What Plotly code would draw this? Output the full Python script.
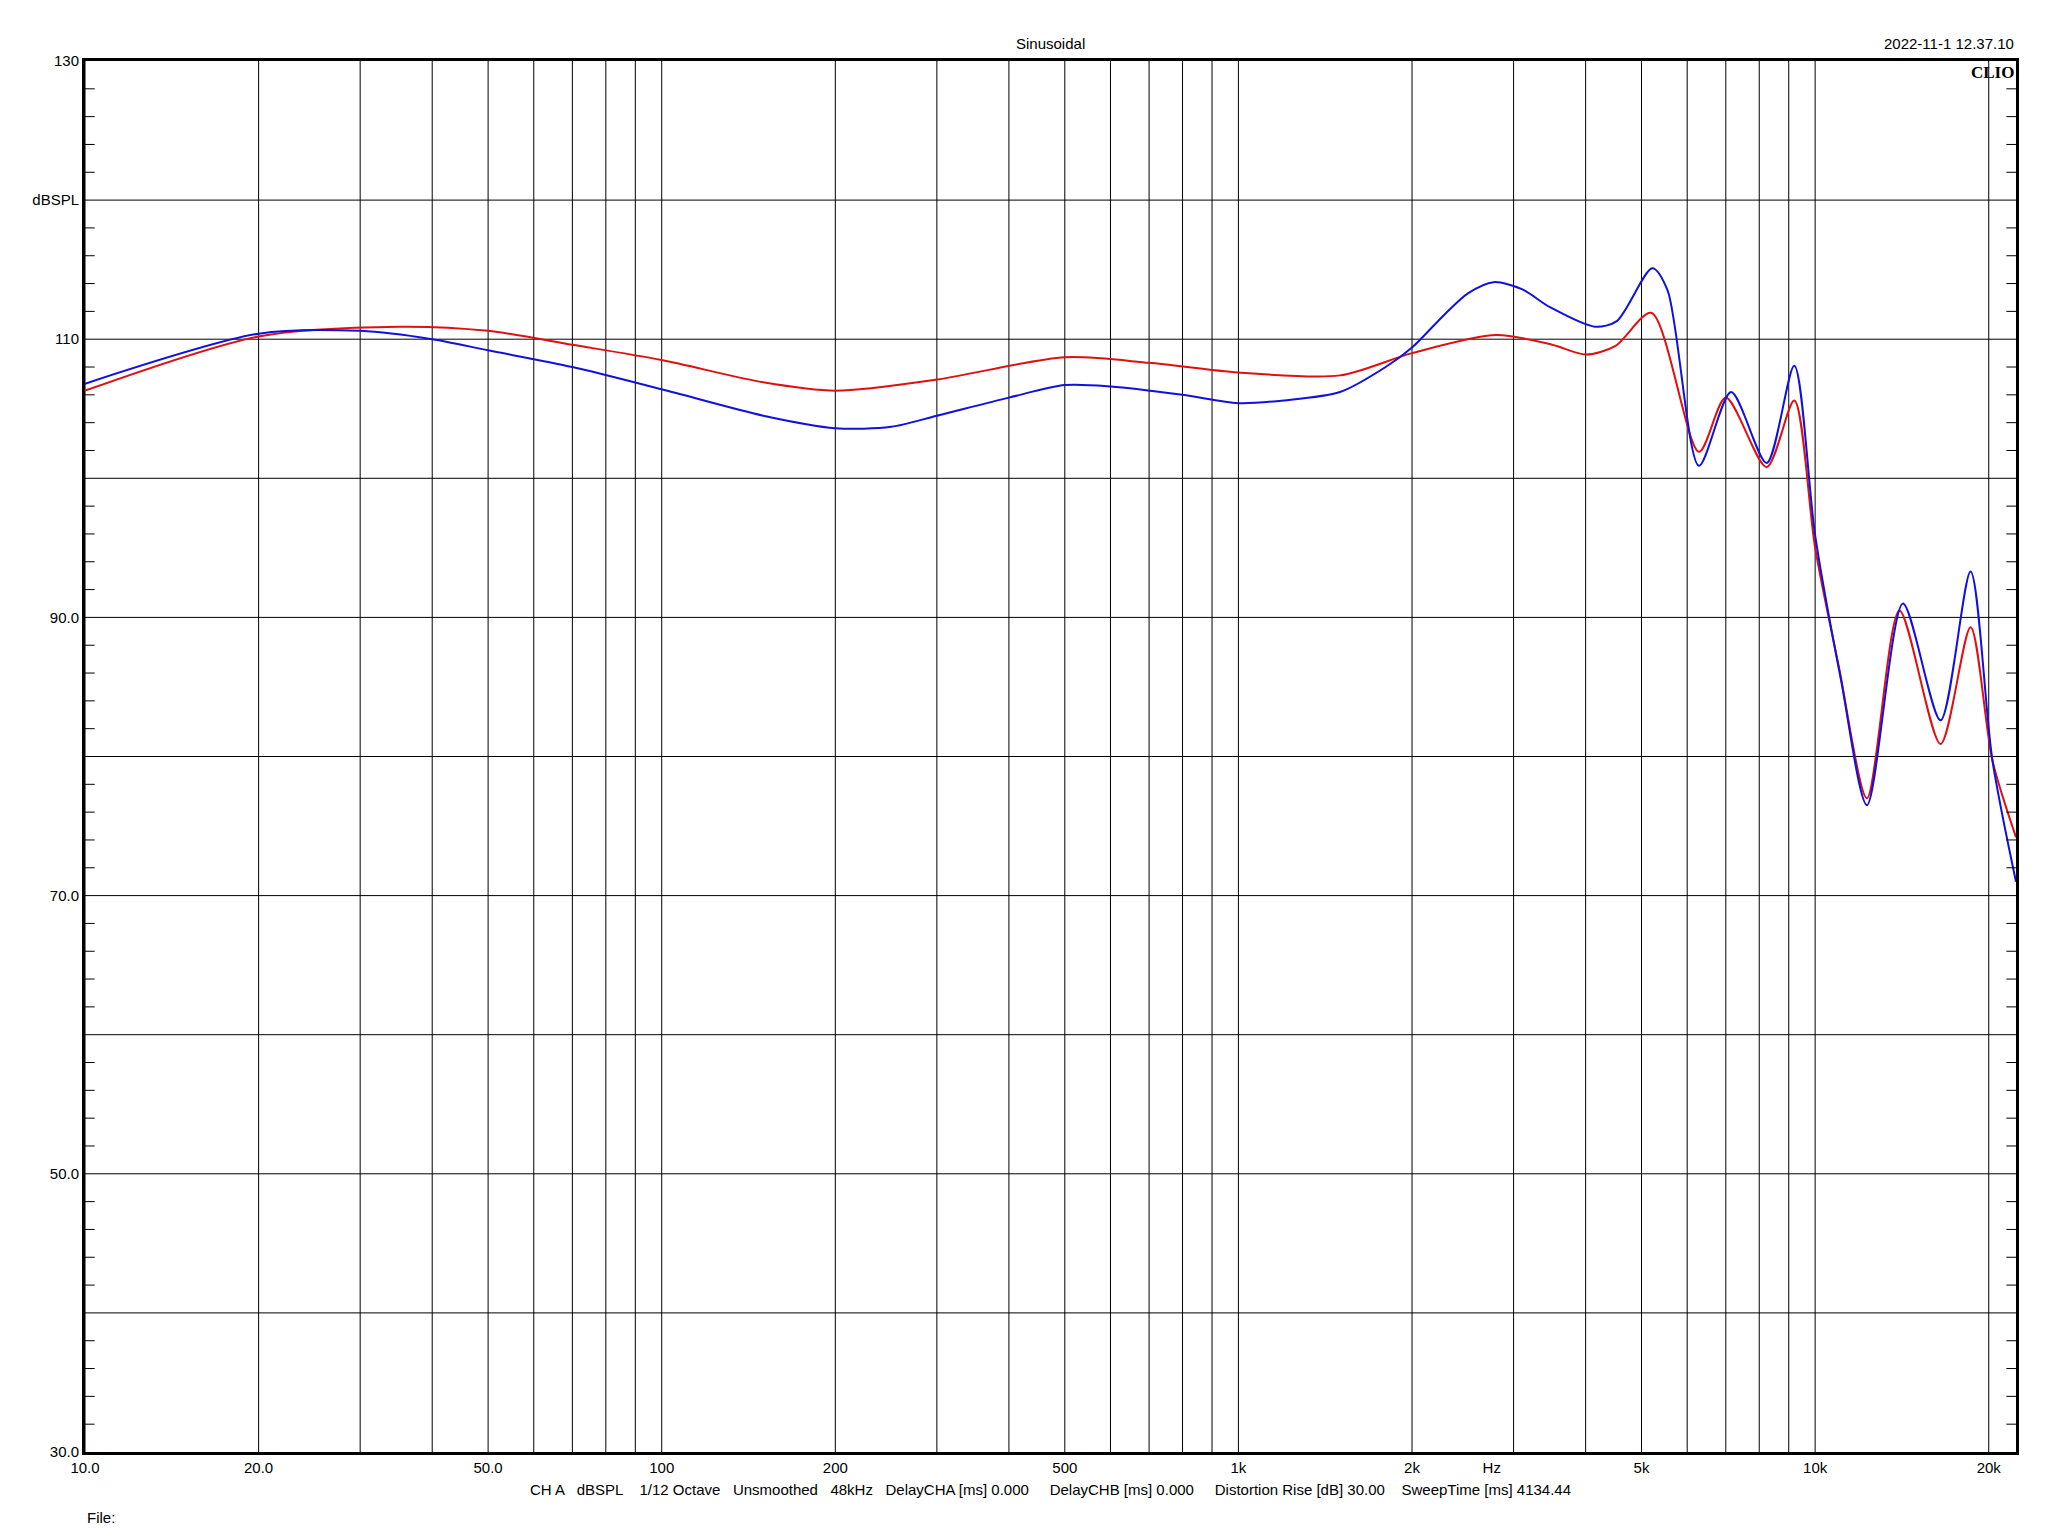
import numpy as np
import plotly.graph_objects as go

blue_f = [10, 20, 30, 40, 50, 70, 100, 150, 200, 250, 300, 400, 500, 600, 800, 1000, 1200, 1500, 1800, 2000,
          2280, 2500, 2770, 3100, 3470, 4150, 4530, 5220, 5550, 6290, 7150, 8240, 9200, 10000, 11100, 12300,
          14200, 16500, 18600, 20300, 22300]
blue_db = [106.8, 110.4, 110.6, 110.0, 109.2, 108.0, 106.4, 104.5, 103.6, 103.7, 104.5, 105.8, 106.7,
           106.6, 106.0, 105.4, 105.6, 106.2, 108.0, 109.4, 111.8, 113.3, 114.1, 113.6, 112.3, 110.9, 111.3,
           115.1, 113.5, 100.9, 106.2, 101.1, 108.1, 95.9, 85.4, 76.5, 91.0, 82.6, 93.3, 79.7, 71.0]

red_f = [10, 20, 35, 50, 70, 100, 150, 200, 300, 500, 700, 1000, 1500, 2000, 2800, 3500, 4000, 4500,
         5200, 6290, 7000, 8240, 9200, 10000, 11000, 12300, 14000, 16500, 18600, 20300, 22300]
red_db = [106.3, 110.2, 110.9, 110.6, 109.6, 108.5, 106.9, 106.3, 107.1, 108.7, 108.3, 107.6, 107.4,
          109.0, 110.3, 109.6, 108.9, 109.5, 111.9, 101.9, 105.8, 100.8, 105.6, 95.0, 86.4, 77.0,
          90.5, 80.9, 89.3, 79.7, 74.2]

x_grid = [10, 20, 30, 40, 50, 60, 70, 80, 90, 100, 200, 300, 400, 500, 600, 700, 800, 900,
          1000, 2000, 3000, 4000, 5000, 6000, 7000, 8000, 9000, 10000, 20000]
x_tick_vals = [10, 20, 50, 100, 200, 500, 1000, 2000, 2750, 5000, 10000, 20000]
x_tick_text = ["10.0", "20.0", "50.0", "100", "200", "500", "1k", "2k", "Hz", "5k", "10k", "20k"]
y_tick_vals = [130, 120, 110, 90, 70, 50, 30]
y_tick_text = ["130", "dBSPL", "110", "90.0", "70.0", "50.0", "30.0"]

fmax = 22300
font = dict(family="Liberation Sans, Arial", size=15, color="black")

fig = go.Figure()
fig.add_trace(go.Scatter(x=red_f, y=red_db, mode="lines", line=dict(color="#e01010", width=2, shape="spline", smoothing=0.8)))
fig.add_trace(go.Scatter(x=blue_f, y=blue_db, mode="lines", line=dict(color="#1010e0", width=2, shape="spline", smoothing=0.8)))

shapes = []
for f in x_grid:
    shapes.append(dict(type="line", xref="x", yref="paper", x0=f, x1=f, y0=0, y1=1, line=dict(color="black", width=1), layer="below"))
for v in range(40, 130, 10):
    shapes.append(dict(type="line", xref="paper", yref="y", x0=0, x1=1, y0=v, y1=v, line=dict(color="black", width=1), layer="below"))
# inner minor ticks every 2 dB on both sides
for v in range(32, 130, 2):
    if v % 10 == 0:
        continue
    shapes.append(dict(type="line", xref="paper", yref="y", x0=0, x1=0.005, y0=v, y1=v, line=dict(color="black", width=1)))
    shapes.append(dict(type="line", xref="paper", yref="y", x0=0.995, x1=1, y0=v, y1=v, line=dict(color="black", width=1)))

fig.update_layout(
    width=2048, height=1536,
    margin=dict(l=77, r=40, t=53, b=92),
    plot_bgcolor="white", paper_bgcolor="white",
    showlegend=False, font=font, shapes=shapes,
    xaxis=dict(type="log", range=[1, np.log10(fmax)], tickvals=x_tick_vals, ticktext=x_tick_text,
               showgrid=False, zeroline=False, showline=True, linecolor="black", linewidth=3, mirror=True,
               ticks="", ticklen=0),
    yaxis=dict(range=[30, 130], tickvals=y_tick_vals, ticktext=y_tick_text, showgrid=False, zeroline=False,
               showline=True, linecolor="black", linewidth=3, mirror=True, ticks=""),
    annotations=[
        dict(text="Sinusoidal", xref="paper", yref="paper", x=0.5, y=1, yshift=28, showarrow=False, font=font),
        dict(text="2022-11-1 12.37.10", xref="paper", yref="paper", x=1, y=1, yshift=28, xanchor="right", showarrow=False, font=font),
        dict(text="<b>CLIO</b>", xref="paper", yref="paper", x=1, y=1, yanchor="top", xanchor="right", showarrow=False,
             font=dict(family="Liberation Serif", size=17, color="black")),
        dict(text="CH A   dBSPL    1/12 Octave   Unsmoothed   48kHz   DelayCHA [ms] 0.000     DelayCHB [ms] 0.000     Distortion Rise [dB] 30.00    SweepTime [ms] 4134.44",
             xref="paper", yref="paper", x=0.5, y=0, yshift=-48, showarrow=False, font=font),
        dict(text="File:", xref="paper", yref="paper", x=0, y=0, yshift=-76, xanchor="left", showarrow=False, font=font),
    ],
)

fig.write_html("out.html")
